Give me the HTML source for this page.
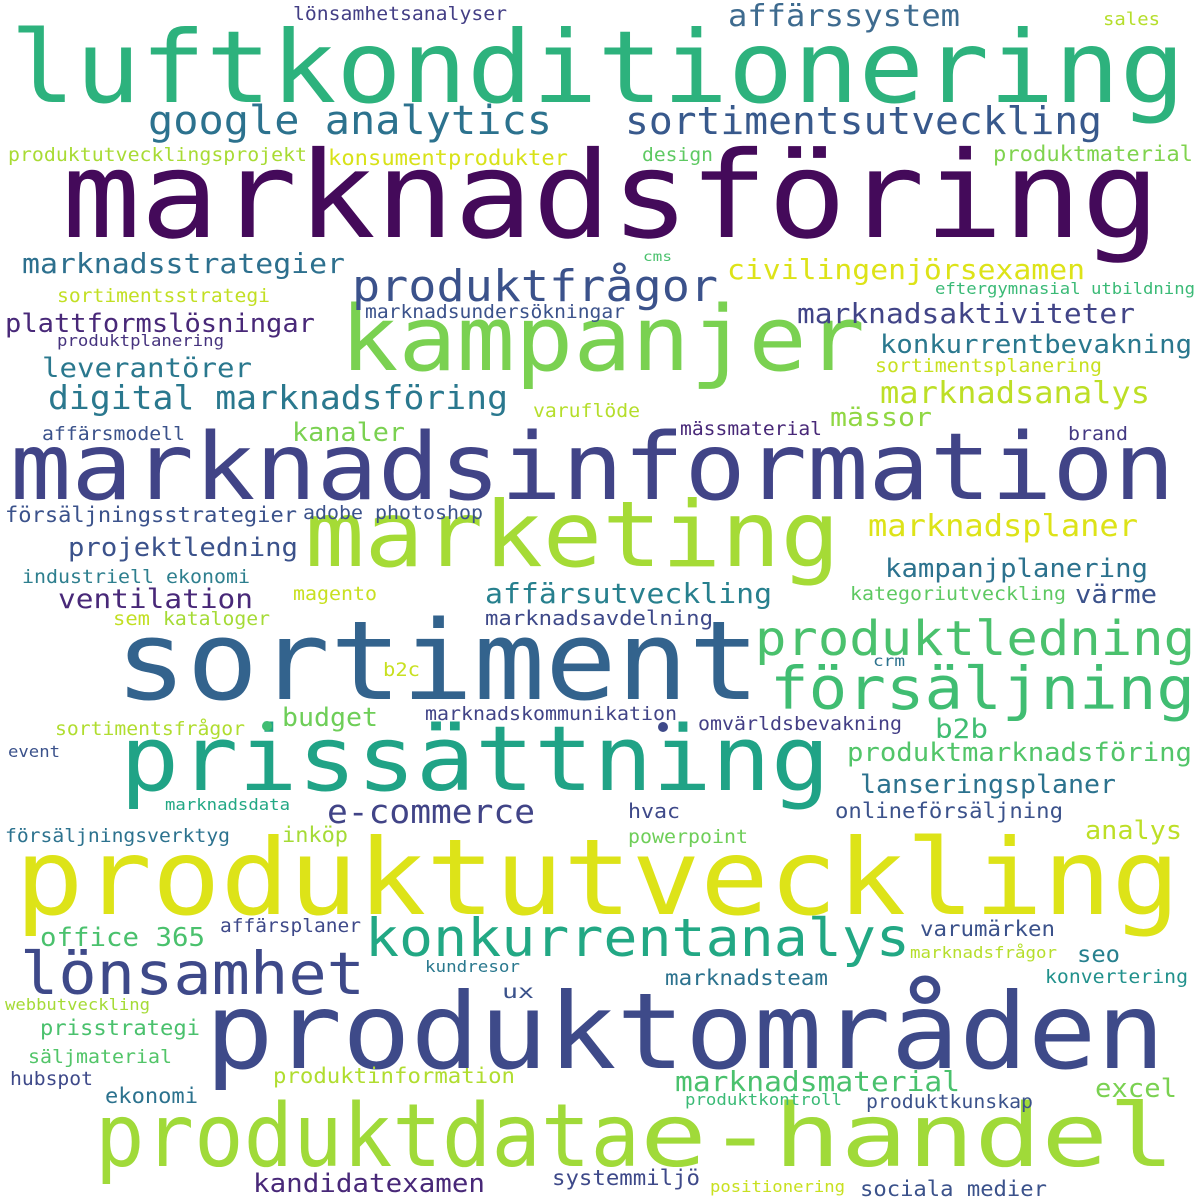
<!DOCTYPE html>
<html><head><meta charset="utf-8"><style>
html,body{margin:0;padding:0;background:#fff;}
svg{display:block}
text{font-family:"DejaVu Sans Mono","Liberation Mono",monospace;}
</style></head><body>
<svg width="1200" height="1200" viewBox="0 0 1200 1200" xmlns="http://www.w3.org/2000/svg">
<rect width="1200" height="1200" fill="#fff"/>
<g>
<text x="10" y="102" font-size="100" fill="#2db27d" textLength="1175" lengthAdjust="spacingAndGlyphs">luftkonditionering</text>
<text x="62" y="237" font-size="120" fill="#440a5a" textLength="1098" lengthAdjust="spacingAndGlyphs">marknadsföring</text>
<text x="340" y="370" font-size="90" fill="#7ad151" textLength="525" lengthAdjust="spacingAndGlyphs">kampanjer</text>
<text x="10" y="499" font-size="93" fill="#414487" textLength="1165" lengthAdjust="spacingAndGlyphs">marknadsinformation</text>
<text x="305" y="566" font-size="91" fill="#a5db36" textLength="535" lengthAdjust="spacingAndGlyphs">marketing</text>
<text x="115" y="699" font-size="110" fill="#33638d" textLength="645" lengthAdjust="spacingAndGlyphs">sortiment</text>
<text x="120" y="790" font-size="90" fill="#20a386" textLength="710" lengthAdjust="spacingAndGlyphs">prissättning</text>
<text x="15" y="914" font-size="105" fill="#dde318" textLength="1165" lengthAdjust="spacingAndGlyphs">produktutveckling</text>
<text x="205" y="1068" font-size="105" fill="#3e4a89" textLength="960" lengthAdjust="spacingAndGlyphs">produktområden</text>
<text x="95" y="1166" font-size="87" fill="#a0da39" textLength="545" lengthAdjust="spacingAndGlyphs">produktdata</text>
<text x="640" y="1166" font-size="87" fill="#a0da39" textLength="535" lengthAdjust="spacingAndGlyphs">e-handel</text>

<text x="148" y="134" font-size="40" fill="#2c728e" textLength="404" lengthAdjust="spacingAndGlyphs">google analytics</text>
<text x="625" y="134" font-size="38" fill="#38598c" textLength="477" lengthAdjust="spacingAndGlyphs">sortimentsutveckling</text>
<text x="728" y="26" font-size="30" fill="#3e6b8f" textLength="232" lengthAdjust="spacingAndGlyphs">affärssystem</text>
<text x="293" y="20" font-size="19" fill="#433e85" textLength="214" lengthAdjust="spacingAndGlyphs">lönsamhetsanalyser</text>
<text x="1103" y="25" font-size="18" fill="#b5de2b" textLength="57" lengthAdjust="spacingAndGlyphs">sales</text>
<text x="8" y="161" font-size="19" fill="#a8db34" textLength="299" lengthAdjust="spacingAndGlyphs">produktutvecklingsprojekt</text>
<text x="328" y="165" font-size="21" fill="#d8e219" textLength="240" lengthAdjust="spacingAndGlyphs">konsumentprodukter</text>
<text x="642" y="161" font-size="19" fill="#5ec962" textLength="71" lengthAdjust="spacingAndGlyphs">design</text>
<text x="993" y="161" font-size="21" fill="#7fd34e" textLength="200" lengthAdjust="spacingAndGlyphs">produktmaterial</text>
<text x="22" y="273" font-size="28" fill="#2d708e" textLength="323" lengthAdjust="spacingAndGlyphs">marknadsstrategier</text>
<text x="643" y="261" font-size="13" fill="#4ac16d" textLength="29" lengthAdjust="spacingAndGlyphs">cms</text>
<text x="352" y="301" font-size="44" fill="#3b528b" textLength="366" lengthAdjust="spacingAndGlyphs">produktfrågor</text>
<text x="727" y="279" font-size="28" fill="#dde318" textLength="358" lengthAdjust="spacingAndGlyphs">civilingenjörsexamen</text>
<text x="57" y="302" font-size="19" fill="#c2df23" textLength="213" lengthAdjust="spacingAndGlyphs">sortimentsstrategi</text>
<text x="935" y="294" font-size="16" fill="#3aba76" textLength="260" lengthAdjust="spacingAndGlyphs">eftergymnasial utbildning</text>
<text x="5" y="332" font-size="26" fill="#482878" textLength="310" lengthAdjust="spacingAndGlyphs">plattformslösningar</text>
<text x="365" y="318" font-size="19" fill="#3b528b" textLength="260" lengthAdjust="spacingAndGlyphs">marknadsundersökningar</text>
<text x="797" y="323" font-size="28" fill="#414487" textLength="338" lengthAdjust="spacingAndGlyphs">marknadsaktiviteter</text>
<text x="57" y="346" font-size="16" fill="#46337e" textLength="167" lengthAdjust="spacingAndGlyphs">produktplanering</text>
<text x="880" y="353" font-size="26" fill="#2a788e" textLength="312" lengthAdjust="spacingAndGlyphs">konkurrentbevakning</text>
<text x="42" y="377" font-size="27" fill="#2a788e" textLength="210" lengthAdjust="spacingAndGlyphs">leverantörer</text>
<text x="875" y="372" font-size="19" fill="#c8e020" textLength="227" lengthAdjust="spacingAndGlyphs">sortimentsplanering</text>
<text x="48" y="409" font-size="33" fill="#2a788e" textLength="460" lengthAdjust="spacingAndGlyphs">digital marknadsföring</text>
<text x="880" y="403" font-size="30" fill="#bddf26" textLength="270" lengthAdjust="spacingAndGlyphs">marknadsanalys</text>
<text x="830" y="426" font-size="26" fill="#90d743" textLength="102" lengthAdjust="spacingAndGlyphs">mässor</text>
<text x="533" y="417" font-size="19" fill="#b5de2b" textLength="107" lengthAdjust="spacingAndGlyphs">varuflöde</text>
<text x="42" y="440" font-size="19" fill="#3b528b" textLength="143" lengthAdjust="spacingAndGlyphs">affärsmodell</text>
<text x="292" y="441" font-size="26" fill="#7ad151" textLength="113" lengthAdjust="spacingAndGlyphs">kanaler</text>
<text x="680" y="435" font-size="19" fill="#482878" textLength="142" lengthAdjust="spacingAndGlyphs">mässmaterial</text>
<text x="1068" y="440" font-size="19" fill="#443983" textLength="60" lengthAdjust="spacingAndGlyphs">brand</text>
<text x="5" y="522" font-size="21" fill="#3b528b" textLength="292" lengthAdjust="spacingAndGlyphs">försäljningsstrategier</text>
<text x="303" y="519" font-size="19" fill="#3b528b" textLength="180" lengthAdjust="spacingAndGlyphs">adobe photoshop</text>
<text x="868" y="536" font-size="30" fill="#dde318" textLength="270" lengthAdjust="spacingAndGlyphs">marknadsplaner</text>
<text x="68" y="556" font-size="26" fill="#3b528b" textLength="230" lengthAdjust="spacingAndGlyphs">projektledning</text>
<text x="885" y="577" font-size="26" fill="#2c728e" textLength="263" lengthAdjust="spacingAndGlyphs">kampanjplanering</text>
<text x="22" y="583" font-size="19" fill="#2e7f8e" textLength="228" lengthAdjust="spacingAndGlyphs">industriell ekonomi</text>
<text x="58" y="608" font-size="27" fill="#482878" textLength="195" lengthAdjust="spacingAndGlyphs">ventilation</text>
<text x="485" y="603" font-size="28" fill="#27808e" textLength="287" lengthAdjust="spacingAndGlyphs">affärsutveckling</text>
<text x="293" y="600" font-size="19" fill="#c8e020" textLength="84" lengthAdjust="spacingAndGlyphs">magento</text>
<text x="850" y="600" font-size="19" fill="#5ec962" textLength="216" lengthAdjust="spacingAndGlyphs">kategoriutveckling</text>
<text x="1075" y="603" font-size="26" fill="#3b528b" textLength="82" lengthAdjust="spacingAndGlyphs">värme</text>
<text x="113" y="625" font-size="19" fill="#c2df23" textLength="37" lengthAdjust="spacingAndGlyphs">sem</text>
<text x="163" y="625" font-size="19" fill="#a5db36" textLength="107" lengthAdjust="spacingAndGlyphs">kataloger</text>
<text x="485" y="625" font-size="20" fill="#3e4989" textLength="228" lengthAdjust="spacingAndGlyphs">marknadsavdelning</text>
<text x="755" y="655" font-size="48" fill="#4ac16d" textLength="440" lengthAdjust="spacingAndGlyphs">produktledning</text>
<text x="770" y="709" font-size="59" fill="#40bd72" textLength="425" lengthAdjust="spacingAndGlyphs">försäljning</text>
<text x="873" y="666" font-size="15" fill="#2c728e" textLength="32" lengthAdjust="spacingAndGlyphs">crm</text>
<text x="383" y="676" font-size="19" fill="#c8e020" textLength="37" lengthAdjust="spacingAndGlyphs">b2c</text>
<text x="55" y="735" font-size="19" fill="#b0dd2f" textLength="190" lengthAdjust="spacingAndGlyphs">sortimentsfrågor</text>
<text x="282" y="726" font-size="26" fill="#6ece58" textLength="96" lengthAdjust="spacingAndGlyphs">budget</text>
<text x="425" y="720" font-size="19" fill="#414487" textLength="252" lengthAdjust="spacingAndGlyphs">marknadskommunikation</text>
<text x="698" y="730" font-size="19" fill="#433e85" textLength="204" lengthAdjust="spacingAndGlyphs">omvärldsbevakning</text>
<text x="935" y="738" font-size="27" fill="#40bd72" textLength="53" lengthAdjust="spacingAndGlyphs">b2b</text>
<text x="8" y="757" font-size="16" fill="#3b528b" textLength="52" lengthAdjust="spacingAndGlyphs">event</text>
<text x="847" y="761" font-size="26" fill="#52c569" textLength="345" lengthAdjust="spacingAndGlyphs">produktmarknadsföring</text>
<text x="860" y="793" font-size="26" fill="#2c728e" textLength="256" lengthAdjust="spacingAndGlyphs">lanseringsplaner</text>
<text x="327" y="823" font-size="33" fill="#414487" textLength="208" lengthAdjust="spacingAndGlyphs">e-commerce</text>
<text x="165" y="810" font-size="16" fill="#22a884" textLength="125" lengthAdjust="spacingAndGlyphs">marknadsdata</text>
<text x="628" y="818" font-size="20" fill="#3e4989" textLength="52" lengthAdjust="spacingAndGlyphs">hvac</text>
<text x="835" y="818" font-size="21" fill="#3b528b" textLength="228" lengthAdjust="spacingAndGlyphs">onlineförsäljning</text>
<text x="5" y="842" font-size="19" fill="#2c728e" textLength="225" lengthAdjust="spacingAndGlyphs">försäljningsverktyg</text>
<text x="282" y="842" font-size="21" fill="#a5db36" textLength="66" lengthAdjust="spacingAndGlyphs">inköp</text>
<text x="628" y="843" font-size="19" fill="#6ece58" textLength="120" lengthAdjust="spacingAndGlyphs">powerpoint</text>
<text x="1085" y="839" font-size="26" fill="#bddf26" textLength="97" lengthAdjust="spacingAndGlyphs">analys</text>
<text x="220" y="932" font-size="19" fill="#3e4989" textLength="141" lengthAdjust="spacingAndGlyphs">affärsplaner</text>
<text x="40" y="946" font-size="26" fill="#4ac16d" textLength="165" lengthAdjust="spacingAndGlyphs">office 365</text>
<text x="365" y="956" font-size="53" fill="#22a884" textLength="545" lengthAdjust="spacingAndGlyphs">konkurrentanalys</text>
<text x="920" y="936" font-size="21" fill="#3b528b" textLength="135" lengthAdjust="spacingAndGlyphs">varumärken</text>
<text x="20" y="994" font-size="59" fill="#3e4989" textLength="345" lengthAdjust="spacingAndGlyphs">lönsamhet</text>
<text x="1077" y="962" font-size="23" fill="#27808e" textLength="43" lengthAdjust="spacingAndGlyphs">seo</text>
<text x="910" y="958" font-size="16" fill="#b5de2b" textLength="147" lengthAdjust="spacingAndGlyphs">marknadsfrågor</text>
<text x="425" y="972" font-size="16" fill="#2a788e" textLength="95" lengthAdjust="spacingAndGlyphs">kundresor</text>
<text x="665" y="985" font-size="21" fill="#2c728e" textLength="163" lengthAdjust="spacingAndGlyphs">marknadsteam</text>
<text x="1045" y="983" font-size="19" fill="#21918c" textLength="143" lengthAdjust="spacingAndGlyphs">konvertering</text>
<text x="502" y="998" font-size="19" fill="#3b528b" textLength="32" lengthAdjust="spacingAndGlyphs">ux</text>
<text x="5" y="1010" font-size="16" fill="#a5db36" textLength="145" lengthAdjust="spacingAndGlyphs">webbutveckling</text>
<text x="40" y="1035" font-size="21" fill="#4ac16d" textLength="160" lengthAdjust="spacingAndGlyphs">prisstrategi</text>
<text x="28" y="1063" font-size="19" fill="#52c569" textLength="144" lengthAdjust="spacingAndGlyphs">säljmaterial</text>
<text x="10" y="1085" font-size="19" fill="#3e4989" textLength="83" lengthAdjust="spacingAndGlyphs">hubspot</text>
<text x="273" y="1083" font-size="21" fill="#b0dd2f" textLength="242" lengthAdjust="spacingAndGlyphs">produktinformation</text>
<text x="675" y="1091" font-size="28" fill="#4ac16d" textLength="285" lengthAdjust="spacingAndGlyphs">marknadsmaterial</text>
<text x="1095" y="1097" font-size="26" fill="#7ad151" textLength="82" lengthAdjust="spacingAndGlyphs">excel</text>
<text x="105" y="1103" font-size="21" fill="#2c728e" textLength="93" lengthAdjust="spacingAndGlyphs">ekonomi</text>
<text x="685" y="1105" font-size="16" fill="#3aba76" textLength="157" lengthAdjust="spacingAndGlyphs">produktkontroll</text>
<text x="866" y="1108" font-size="19" fill="#3b528b" textLength="167" lengthAdjust="spacingAndGlyphs">produktkunskap</text>
<text x="253" y="1192" font-size="26" fill="#482878" textLength="232" lengthAdjust="spacingAndGlyphs">kandidatexamen</text>
<text x="552" y="1185" font-size="21" fill="#3e4989" textLength="148" lengthAdjust="spacingAndGlyphs">systemmiljö</text>
<text x="710" y="1192" font-size="16" fill="#c8e020" textLength="135" lengthAdjust="spacingAndGlyphs">positionering</text>
<text x="860" y="1196" font-size="21" fill="#3b528b" textLength="187" lengthAdjust="spacingAndGlyphs">sociala medier</text>
</g>
<circle cx="267" cy="726" r="5" fill="#40bd72"/>
<circle cx="663" cy="727" r="5" fill="#3e4989"/>
</svg>
</body></html>
